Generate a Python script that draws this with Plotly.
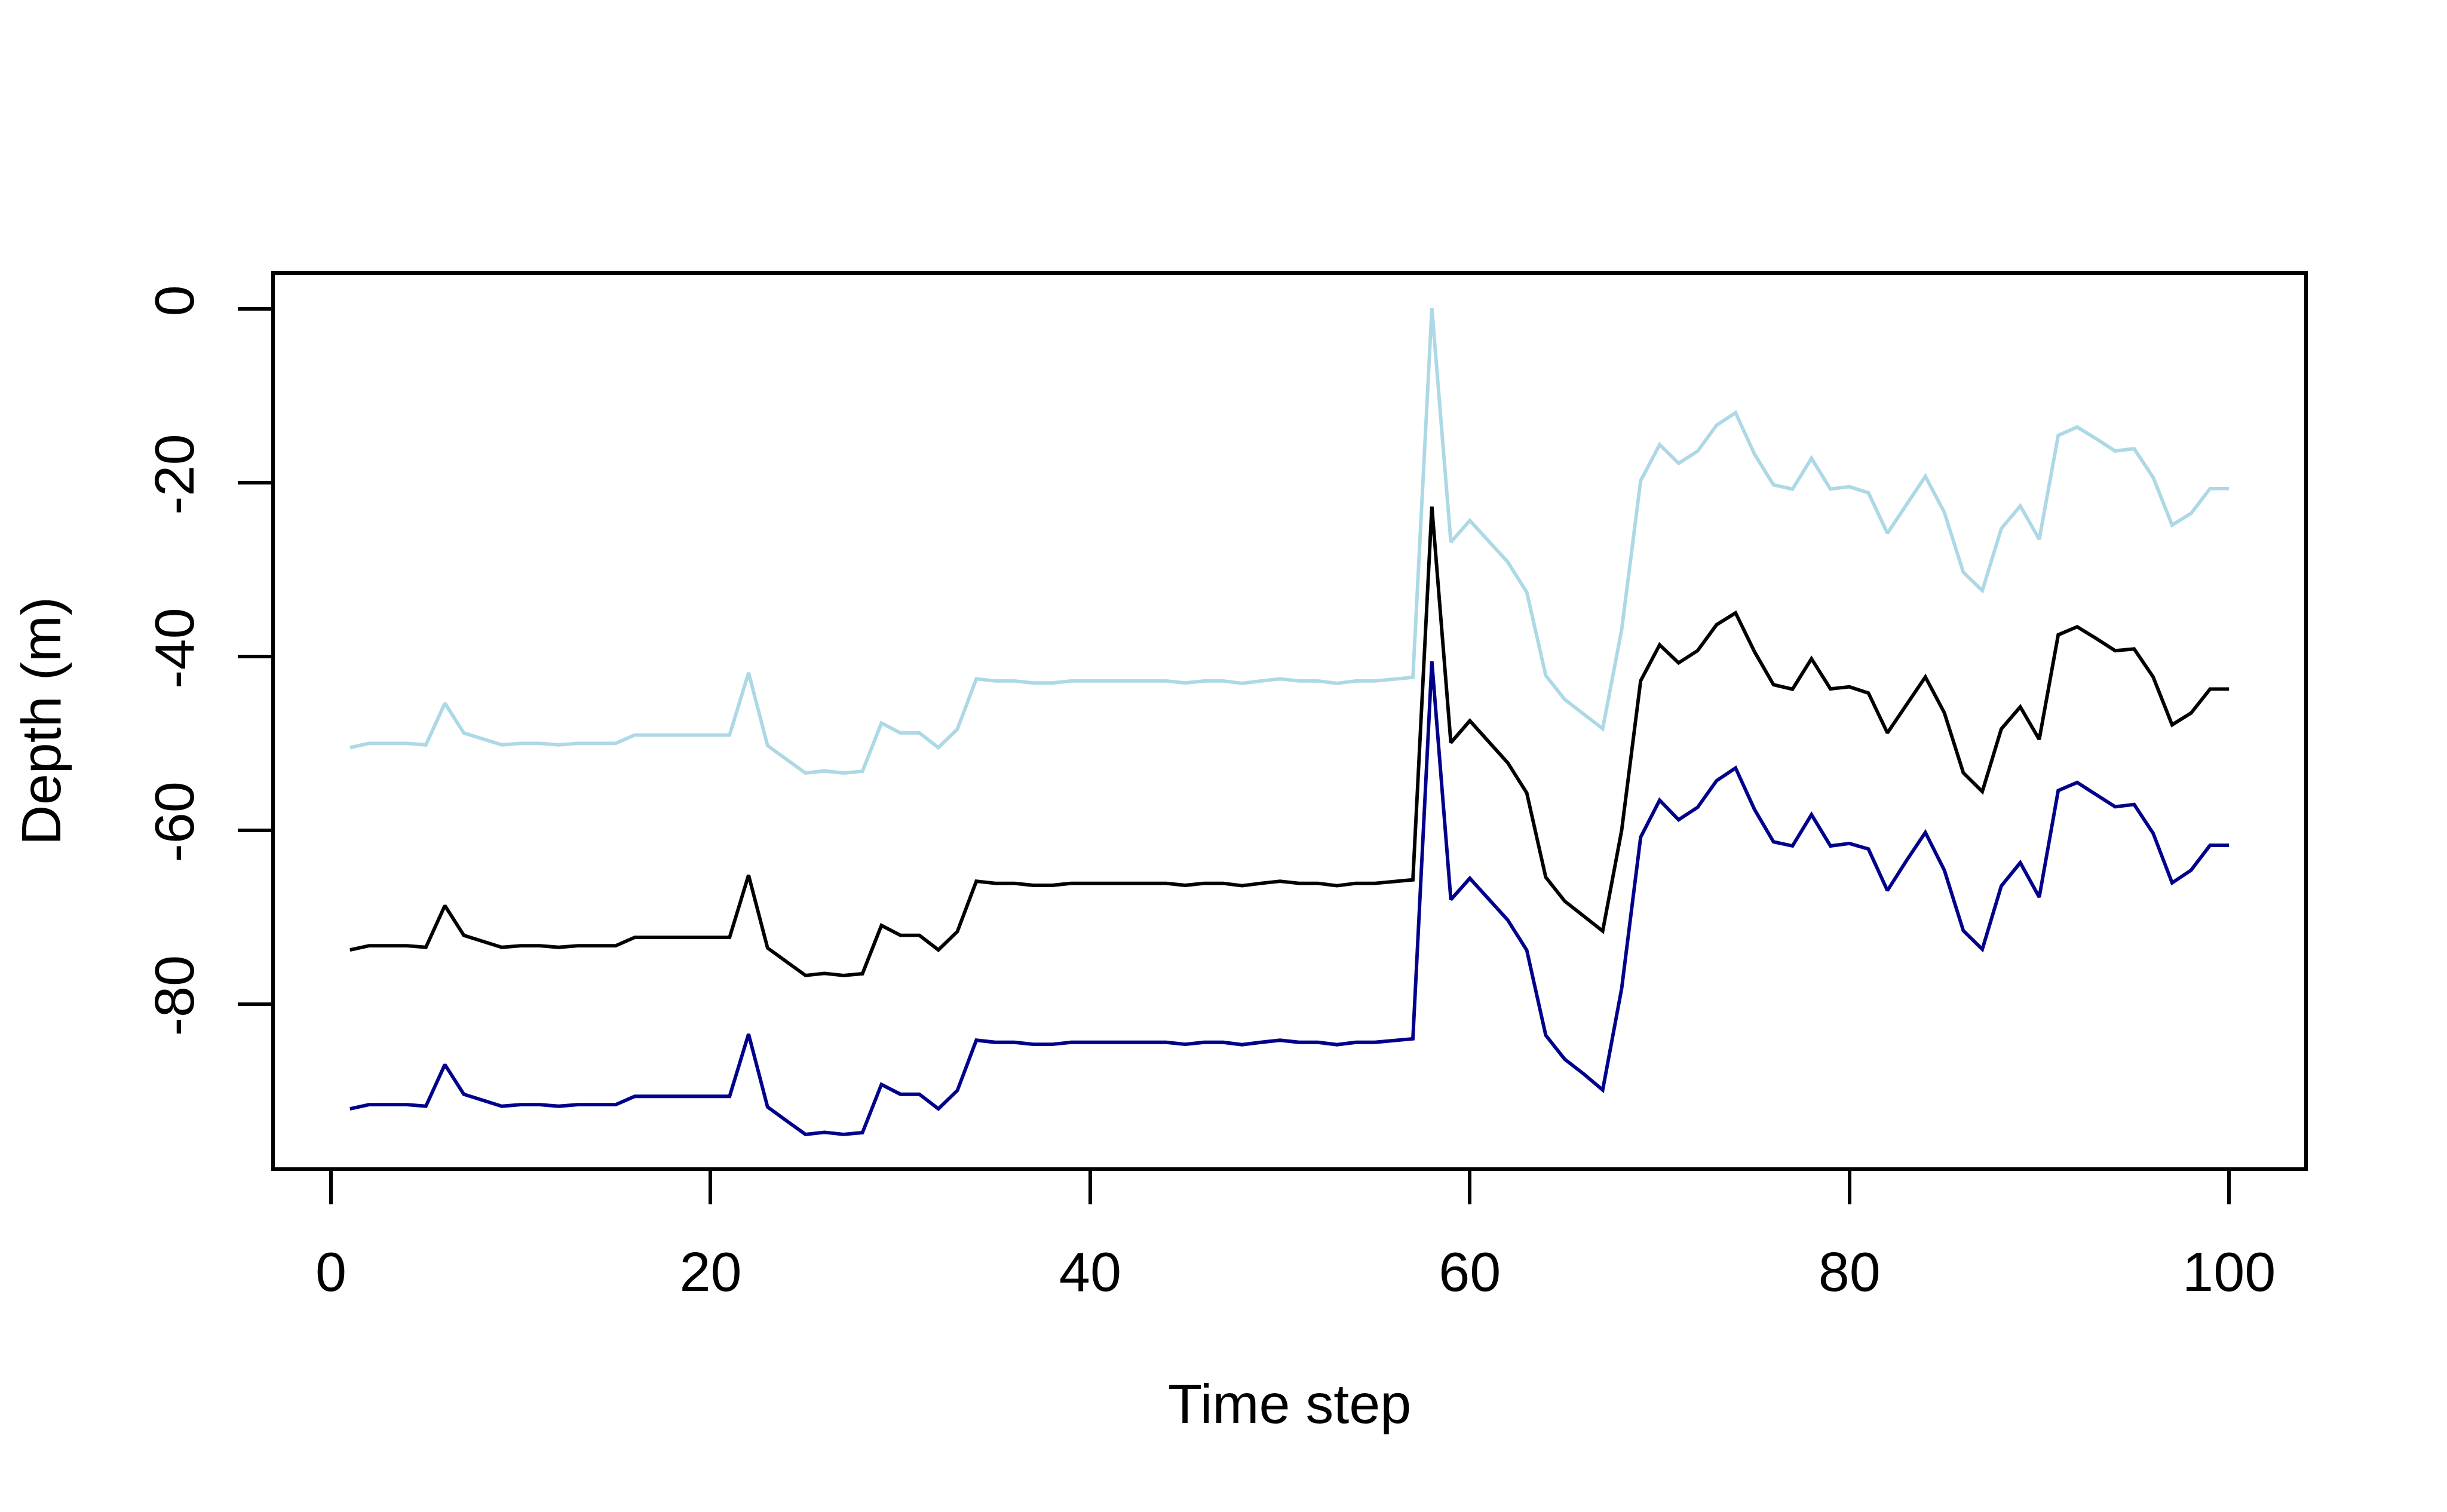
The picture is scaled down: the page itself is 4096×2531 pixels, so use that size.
import plotly.graph_objects as go

# ---- data ----
time_step = list(range(1, 101))

depth_mean = [
    -73.77, -73.29, -73.29, -73.29, -73.47, -68.67, -72.10, -72.80, -73.47, -73.29,
    -73.29, -73.47, -73.29, -73.29, -73.29, -72.33, -72.33, -72.33, -72.33, -72.33,
    -72.33, -65.16, -73.55, -75.14, -76.71, -76.47, -76.71, -76.51, -70.96, -72.09,
    -72.09, -73.77, -71.66, -65.87, -66.11, -66.11, -66.34, -66.34, -66.11, -66.11,
    -66.11, -66.11, -66.11, -66.11, -66.34, -66.11, -66.11, -66.38, -66.11, -65.87,
    -66.11, -66.11, -66.38, -66.11, -66.11, -65.90, -65.70, -22.73, -49.92, -47.39,
    -49.82, -52.24, -55.71, -65.40, -68.16, -69.85, -71.60, -60.00, -42.79, -38.65,
    -40.73, -39.32, -36.33, -34.97, -39.45, -43.24, -43.75, -40.25, -43.72, -43.48,
    -44.20, -48.79, -45.59, -42.34, -46.47, -53.38, -55.54, -48.34, -45.80, -49.54,
    -37.50, -36.57, -37.92, -39.32, -39.13, -42.34, -47.86, -46.50, -43.74, -43.74,
]

depth_upper = [
    -50.47, -49.99, -49.99, -49.99, -50.17, -45.37, -48.80, -49.50, -50.17, -49.99,
    -49.99, -50.17, -49.99, -49.99, -49.99, -49.03, -49.03, -49.03, -49.03, -49.03,
    -49.03, -41.86, -50.25, -51.84, -53.41, -53.17, -53.41, -53.21, -47.66, -48.79,
    -48.79, -50.47, -48.36, -42.57, -42.81, -42.81, -43.04, -43.04, -42.81, -42.81,
    -42.81, -42.81, -42.81, -42.81, -43.04, -42.81, -42.81, -43.08, -42.81, -42.57,
    -42.81, -42.81, -43.08, -42.81, -42.81, -42.60, -42.40, 0.10, -26.83, -24.34,
    -26.70, -29.12, -32.59, -42.18, -44.94, -46.60, -48.30, -36.90, -19.76, -15.60,
    -17.75, -16.35, -13.37, -11.93, -16.71, -20.23, -20.72, -17.18, -20.72, -20.44,
    -21.15, -25.80, -22.44, -19.26, -23.40, -30.30, -32.41, -25.27, -22.65, -26.51,
    -14.54, -13.58, -14.93, -16.33, -16.07, -19.37, -24.86, -23.51, -20.66, -20.66,
]

depth_lower = [
    -92.07, -91.59, -91.59, -91.59, -91.77, -86.97, -90.40, -91.10, -91.77, -91.59,
    -91.59, -91.77, -91.59, -91.59, -91.59, -90.63, -90.63, -90.63, -90.63, -90.63,
    -90.63, -83.46, -91.85, -93.44, -95.01, -94.77, -95.01, -94.81, -89.26, -90.39,
    -90.39, -92.07, -89.96, -84.17, -84.41, -84.41, -84.64, -84.64, -84.41, -84.41,
    -84.41, -84.41, -84.41, -84.41, -84.64, -84.41, -84.41, -84.68, -84.41, -84.17,
    -84.41, -84.41, -84.68, -84.41, -84.41, -84.20, -84.00, -40.56, -67.99, -65.53,
    -67.92, -70.34, -73.81, -83.60, -86.36, -88.05, -89.90, -78.20, -60.79, -56.54,
    -58.79, -57.36, -54.29, -52.83, -57.61, -61.33, -61.80, -58.20, -61.80, -61.52,
    -62.16, -66.94, -63.51, -60.25, -64.59, -71.56, -73.70, -66.41, -63.73, -67.70,
    -55.42, -54.50, -55.90, -57.29, -57.03, -60.34, -66.05, -64.59, -61.73, -61.73,
]

x_tick_vals = [0, 20, 40, 60, 80, 100]
x_tick_text = ["0", "20", "40", "60", "80", "100"]
y_tick_vals = [0, -20, -40, -60, -80]
y_tick_text = ["0", "-20", "-40", "-60", "-80"]

x_title = "Time step"
y_title = "Depth (m)"

# ---- styling ----
S = 0.936
FONT = "Liberation Sans, Arial, Helvetica, sans-serif"
FS = 100 * S
LW = 6.25 * S
TICKLEN = 60 * S

fig = go.Figure()
fig.add_trace(go.Scatter(x=time_step, y=depth_mean, mode="lines",
                         line=dict(color="black", width=LW), showlegend=False))
fig.add_trace(go.Scatter(x=time_step, y=depth_upper, mode="lines",
                         line=dict(color="#ADD8E6", width=LW), showlegend=False))
fig.add_trace(go.Scatter(x=time_step, y=depth_lower, mode="lines",
                         line=dict(color="#00008B", width=LW), showlegend=False))

axis_common = dict(
    showgrid=False, zeroline=False, showline=True, mirror=True,
    linecolor="black", linewidth=LW, ticks="outside", ticklen=TICKLEN,
    tickwidth=LW, tickcolor="black",
    tickfont=dict(family=FONT, size=FS, color="black"),
)

fig.update_xaxes(range=[-2.96, 103.96], tickmode="array",
                 tickvals=x_tick_vals, ticktext=x_tick_text,
                 ticklabelstandoff=33, **axis_common)
fig.update_yaxes(range=[-98.8, 3.95], tickmode="array",
                 tickvals=y_tick_vals, ticktext=y_tick_text,
                 tickangle=-90, ticklabelstandoff=36, **axis_common)

fig.add_annotation(text=x_title, xref="paper", yref="paper", x=0.5, y=0,
                   xanchor="center", yanchor="middle", yshift=-395.6,
                   showarrow=False, font=dict(family=FONT, size=FS, color="black"))
fig.add_annotation(text=y_title, xref="paper", yref="paper", x=0, y=0.5,
                   xanchor="center", yanchor="middle", xshift=-392.1,
                   textangle=-90, showarrow=False,
                   font=dict(family=FONT, size=FS, color="black"))

fig.update_layout(
    width=4096, height=2531,
    margin=dict(l=460, r=239, t=460, b=577, pad=0),
    paper_bgcolor="white", plot_bgcolor="white",
    font=dict(family=FONT, size=FS, color="black"),
)

fig.write_html("out.html")
